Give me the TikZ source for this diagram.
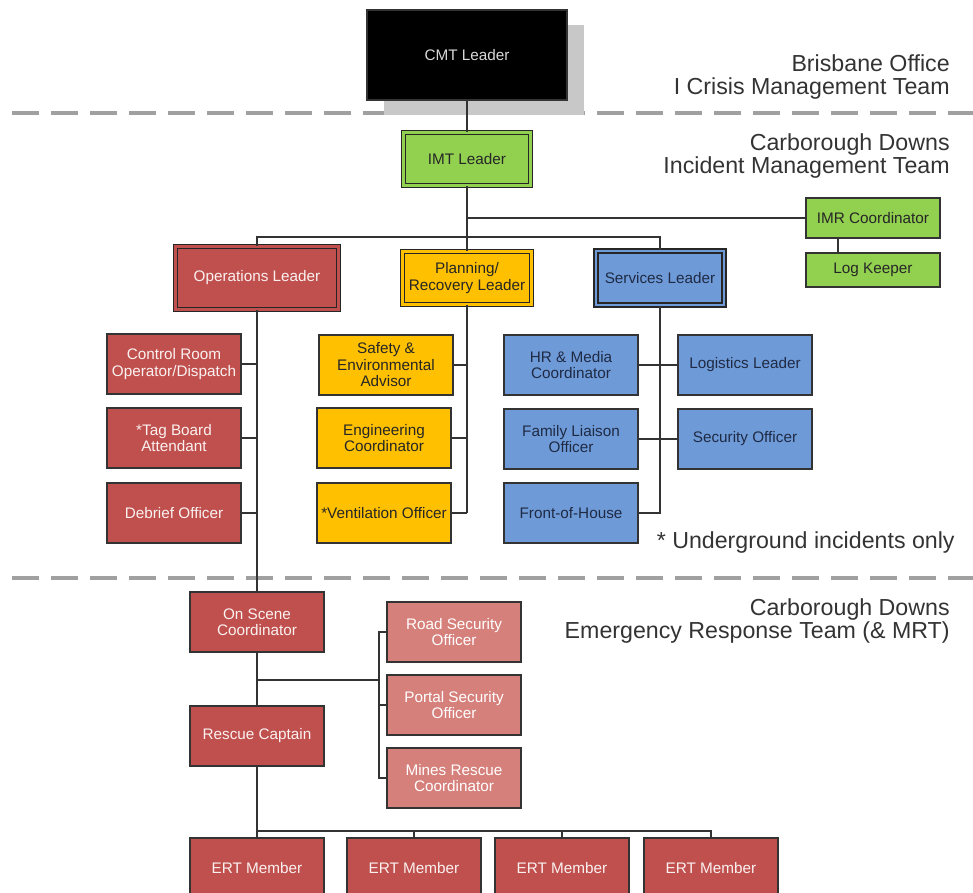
\documentclass[tikz,border=0pt]{standalone}
\usepackage{fontspec}
\setmainfont{Liberation Sans}
\usetikzlibrary{shadows}

\definecolor{opsred}{HTML}{C0504D}
\definecolor{ertpink}{HTML}{D6807B}
\definecolor{planyel}{HTML}{FFC000}
\definecolor{servblue}{HTML}{6E9BD8}
\definecolor{imtgreen}{HTML}{92D050}
\definecolor{dashgray}{HTML}{A0A0A0}
\definecolor{shadowgray}{HTML}{C8C8C8}
\definecolor{navytext}{HTML}{1F2A44}

\tikzset{
  unit/.style={draw=black!80, line width=0.8pt, minimum width=2.68cm, minimum height=1.2cm,
    inner sep=1pt, align=center, font=\fontsize{8.7}{9.4}\selectfont},
  opsbox/.style={unit, fill=opsred, text=white!92!opsred},
  ertbox/.style={unit, fill=ertpink, text=white},
  planbox/.style={unit, fill=planyel, text=black!85},
  servbox/.style={unit, fill=servblue, text=navytext},
  imtbox/.style={unit, fill=imtgreen, text=black!85},
  leader/.style={double=#1, double distance=1.5pt, line width=0.9pt, draw=black!85},
  link/.style={draw=black!80, line width=0.8pt},
  zone/.style={draw=dashgray, line width=2.8pt, dash pattern=on 0.54cm off 0.24cm},
  teamlabel/.style={align=right, inner sep=0pt, text=black!80,
    font=\fontsize{13.2}{13.6}\selectfont}
}

\begin{document}
\begin{tikzpicture}[x=0.02cm, y=-0.02cm]
  \useasboundingbox (0,0) rectangle (973,892);

  % team zones
  \draw[zone] (12,113) -- (973,113);
  \draw[zone] (12,578) -- (973,578);
  \node[teamlabel, anchor=east] (brisbane) at (950,77) {Brisbane Office\\I Crisis Management Team};
  \node[teamlabel, anchor=east] (imtteam) at (950,156) {Carborough Downs\\Incident Management Team};
  \node[teamlabel, anchor=east] (ertteam) at (950,621) {Carborough Downs\\Emergency Response Team (\& MRT)};
  \node[teamlabel, anchor=base east] (note) at (955,548) {* Underground incidents only};

  % crisis and incident management
  \node[unit, fill=black, text=black!15, minimum width=4cm, minimum height=1.8cm,
    drop shadow={shadow xshift=0.34cm, shadow yshift=-0.3cm, fill=shadowgray, opacity=1}]
    (cmt) at (467,55) {CMT Leader};
  \node[imtbox, leader=imtgreen, minimum width=2.54cm, minimum height=1.06cm] (imt) at (467,159) {IMT Leader};
  \node[imtbox, minimum height=0.8cm] (imr) at (873,218) {IMR Coordinator};
  \node[imtbox, minimum height=0.68cm] (logkeeper) at (873,270) {Log Keeper};

  \node[opsbox, leader=opsred, minimum width=3.26cm, minimum height=1.26cm] (ops) at (257,278) {Operations Leader};
  \node[planbox, leader=planyel, minimum width=2.58cm, minimum height=1.06cm] (plan) at (467,278) {Planning/\\Recovery Leader};
  \node[servbox, leader=servblue, minimum width=2.56cm, minimum height=1.08cm] (serv) at (660,278) {Services Leader};

  % operations
  \node[opsbox] (ctrl) at (174,364) {Control Room\\Operator/Dispatch};
  \node[opsbox] (tag) at (174,438) {*Tag Board\\Attendant};
  \node[opsbox] (debrief) at (174,513) {Debrief Officer};

  % planning
  \node[planbox] (safety) at (386,365) {Safety \&\\Environmental\\Advisor};
  \node[planbox] (eng) at (384,438) {Engineering\\Coordinator};
  \node[planbox] (vent) at (384,513) {*Ventilation Officer};

  % services
  \node[servbox] (hr) at (571,365) {HR \& Media\\Coordinator};
  \node[servbox] (family) at (571,439) {Family Liaison\\Officer};
  \node[servbox] (front) at (571,513) {Front-of-House};
  \node[servbox] (logis) at (745,365) {Logistics Leader};
  \node[servbox] (secur) at (745,439) {Security Officer};

  % emergency response
  \node[opsbox] (onscene) at (257,622) {On Scene\\Coordinator};
  \node[opsbox] (rescue) at (257,736) {Rescue Captain};
  \node[ertbox] (road) at (454,632) {Road Security\\Officer};
  \node[ertbox] (portal) at (454,705) {Portal Security\\Officer};
  \node[ertbox] (mines) at (454,778) {Mines Rescue\\Coordinator};
  \foreach \n/\x in {1/257,2/414,3/562,4/711}
    \node[opsbox] (ert\n) at (\x,868) {ERT Member};

  \coordinate (leadbus) at (467,237);
  \coordinate (ertspine) at (379,680);
  \coordinate (memberbus) at (257,831);

  % connectors
  \draw[link] (cmt.south) -- (imt.north);
  \draw[link] (imt.south) -- (plan.north);
  \draw[link] (ops.north) |- (leadbus) -| (serv.north);
  \draw[link] (imt.south |- imr.west) -- (imr.west);
  \draw[link] ([xshift=-0.7cm]imr.south) -- ([xshift=-0.7cm]logkeeper.north);

  \draw[link] (ops.south) -- (onscene.north);
  \foreach \c in {ctrl,tag,debrief}
    \draw[link] (\c.east) -- (\c.east -| ops.south);

  \draw[link] (plan.south) -- (plan.south |- vent.east);
  \foreach \c in {safety,eng,vent}
    \draw[link] (\c.east) -- (\c.east -| plan.south);

  \draw[link] (serv.south) -- (serv.south |- front.east) -- (front.east);
  \draw[link] (hr.east) -- (logis.west);
  \draw[link] (family.east) -- (secur.west);

  \draw[link] (onscene.south) -- (rescue.north);
  \draw[link] (ertspine -| onscene.south) -- (ertspine);
  \draw[link] (road.west) -- (road.west -| ertspine) -- (mines.west -| ertspine) -- (mines.west);
  \draw[link] (portal.west -| ertspine) -- (portal.west);

  \draw[link] (rescue.south) -- (ert1.north);
  \draw[link] (memberbus) -| (ert4.north);
  \foreach \c in {ert2,ert3}
    \draw[link] (\c.north) -- (\c.north |- memberbus);
\end{tikzpicture}
\end{document}
